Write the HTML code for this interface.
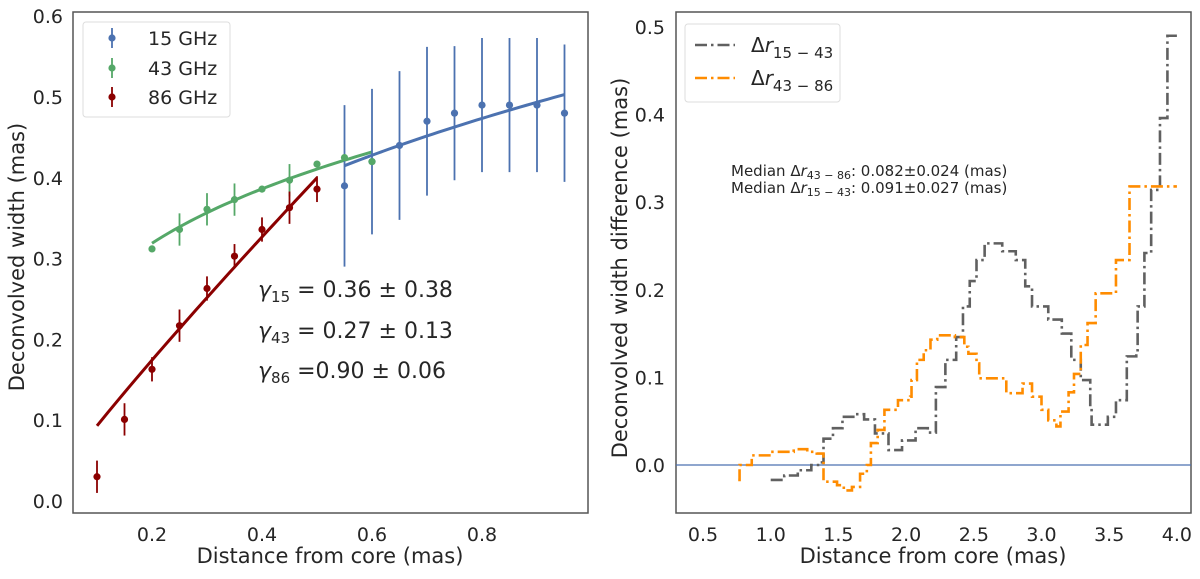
<!DOCTYPE html>
<html><head><meta charset="utf-8"><style>
html,body{margin:0;padding:0;background:#fff;}
svg text{font-family:"DejaVu Sans","Liberation Sans",sans-serif;fill:#262626;}
</style></head><body>
<svg id="fig" width="1200" height="574" xmlns="http://www.w3.org/2000/svg">
<g id="left"></g>
<g id="right"></g>
</svg>
<script>
// ---- Left chart data ----
const xTicksL = [0.2, 0.4, 0.6, 0.8];
const yTicksL = [0.0, 0.1, 0.2, 0.3, 0.4, 0.5, 0.6];
const x15 = [0.55,0.6,0.65,0.7,0.75,0.8,0.85,0.9,0.95];
const y15 = [0.39,0.42,0.44,0.47,0.48,0.49,0.49,0.49,0.48];
const e15 = [0.10,0.09,0.092,0.092,0.083,0.083,0.083,0.083,0.085];
const x43 = [0.2,0.25,0.3,0.35,0.4,0.45,0.5,0.55,0.6];
const y43 = [0.312,0.336,0.361,0.373,0.386,0.397,0.417,0.425,0.420];
const e43 = [0,0.02,0.02,0.02,0.004,0.02,0.004,0.004,0.004];
const x86 = [0.1,0.15,0.2,0.25,0.3,0.35,0.4,0.45,0.5];
const y86 = [0.030,0.101,0.163,0.217,0.263,0.303,0.336,0.363,0.386];
const e86 = [0.02,0.02,0.015,0.02,0.015,0.015,0.015,0.02,0.016];
const fit15 = [0.55, 0.95, 0.415, 0.503];
const fit43 = [0.2, 0.6, 0.319, 0.432];
const fit86 = [0.1, 0.5, 0.093, 0.400];
// ---- Right chart data ----
const xTicksR = [0.5,1.0,1.5,2.0,2.5,3.0,3.5,4.0];
const yTicksR = [0.0,0.1,0.2,0.3,0.4,0.5];
const gX = [1.0,1.1,1.2,1.3,1.36,1.39,1.46,1.53,1.61,1.69,1.77,1.87,1.97,2.07,2.16,2.22,2.29,2.37,2.42,2.47,2.52,2.58,2.71,2.81,2.88,2.93,3.05,3.15,3.22,3.29,3.36,3.37,3.49,3.55,3.63,3.70,3.71,3.76,3.81,3.875,3.93,4.0];
const gY = [-0.017,-0.012,-0.006,0.0,0.003,0.030,0.042,0.055,0.058,0.052,0.036,0.017,0.028,0.042,0.037,0.089,0.120,0.146,0.181,0.210,0.234,0.253,0.244,0.234,0.204,0.181,0.166,0.150,0.120,0.097,0.067,0.046,0.055,0.074,0.124,0.131,0.181,0.242,0.314,0.396,0.490,0.490];
const oX = [0.76,0.77,0.86,1.0,1.17,1.27,1.34,1.39,1.49,1.54,1.60,1.66,1.71,1.74,1.79,1.84,1.94,2.03,2.04,2.08,2.13,2.18,2.23,2.36,2.43,2.46,2.52,2.54,2.70,2.74,2.86,2.93,3.0,3.05,3.11,3.14,3.20,3.24,3.29,3.34,3.40,3.55,3.65,4.0];
const oY = [-0.017,0.0,0.011,0.015,0.018,0.015,0.013,-0.019,-0.023,-0.029,-0.025,-0.010,0.0,0.025,0.040,0.063,0.074,0.078,0.097,0.120,0.131,0.143,0.148,0.146,0.135,0.127,0.116,0.099,0.099,0.082,0.093,0.078,0.063,0.051,0.044,0.061,0.083,0.104,0.137,0.162,0.196,0.234,0.318,0.318];

const NS='http://www.w3.org/2000/svg';
function mk(parent, tag, attrs, text){
  const e=document.createElementNS(NS,tag);
  for(const k in attrs) e.setAttribute(k,attrs[k]);
  if(text!==undefined) e.textContent=text;
  parent.appendChild(e); return e;
}
const L=document.getElementById('left');
const xL=v=>42+550*v, yL=v=>501-808*v;
const R=document.getElementById('right');
const xR=v=>703+(v-0.5)*135.4, yR=v=>465-876*v;

let f=mk(L,'rect',{x:73,y:12,width:515,height:501,fill:'none',stroke:'#555',"stroke-width":1.5});


xTicksL.forEach(v=>{const t=mk(L,'text',{x:xL(v),y:541,'font-size':19,'text-anchor':'middle'},v.toFixed(1));

});
yTicksL.forEach(v=>{const t=mk(L,'text',{x:63,y:yL(v)+7,'font-size':19,'text-anchor':'end'},v.toFixed(1));

});
let t=mk(L,'text',{x:330,y:563,'font-size':21,'text-anchor':'middle'},'Distance from core (mas)');


t=mk(L,'text',{x:0,y:0,'font-size':21,'text-anchor':'middle',transform:'translate(24,257) rotate(-90)'},'Deconvolved width (mas)');



function series(xs,ys,es,col,name){
  const g=mk(L,'g',{});
  
  
  xs.forEach((x,i)=>{
    if(es[i]>0){const l=mk(g,'line',{x1:xL(x),x2:xL(x),y1:yL(ys[i]-es[i]),y2:yL(ys[i]+es[i]),stroke:col,'stroke-width':1.8});
    
    }
    const c=mk(g,'circle',{cx:xL(x),cy:yL(ys[i]),r:3.6,fill:col});
    
    
  });
}
function fitLine(p,col,name){
  const pts=[];const k=Math.log(p[3]/p[2])/Math.log(p[1]/p[0]);
  for(let i=0;i<=40;i++){const x=p[0]+(p[1]-p[0])*i/40;const y=p[2]*Math.pow(x/p[0],k);pts.push(xL(x)+','+yL(y));}
  const l=mk(L,'polyline',{points:pts.join(' '),fill:'none',stroke:col,'stroke-width':3});
  
  
}
fitLine(fit15,'#4c72b0','fit-15ghz');
fitLine(fit43,'#55a868','fit-43ghz');
fitLine(fit86,'#8b0000','fit-86ghz');
series(x15,y15,e15,'#4c72b0','series-15ghz');
series(x43,y43,e43,'#55a868','series-43ghz');
series(x86,y86,e86,'#8b0000','series-86ghz');

const lg=mk(L,'g',{});


mk(lg,'rect',{x:83,y:22,width:147,height:95,rx:3,fill:'#fff',stroke:'#ddd'});
[['15 GHz','#4c72b0',38],['43 GHz','#55a868',68],['86 GHz','#8b0000',97]].forEach(d=>{
  const e=mk(lg,'g',{});
  
  
  mk(e,'line',{x1:112,x2:112,y1:d[2]-10,y2:d[2]+10,stroke:d[1],'stroke-width':1.8});
  mk(e,'circle',{cx:112,cy:d[2],r:3.6,fill:d[1]});
  mk(e,'text',{x:148,y:d[2]+7,'font-size':19},d[0]);
});
[['15','= 0.36 ± 0.38',297],['43','= 0.27 ± 0.13',338],['86',' =0.90 ± 0.06',378]].forEach(d=>{
  const a=mk(L,'text',{x:258,y:d[2],'font-size':22});
  
  
  mk(a,'tspan',{'font-style':'italic'},'γ');
  mk(a,'tspan',{'font-size':15,dy:5},d[0]);
  mk(a,'tspan',{dy:-5},' '+d[1]);
});

f=mk(R,'rect',{x:676,y:12,width:515,height:501,fill:'none',stroke:'#555',"stroke-width":1.5});


xTicksR.forEach(v=>{const t=mk(R,'text',{x:xR(v),y:541,'font-size':19,'text-anchor':'middle'},v.toFixed(1));

});
yTicksR.forEach(v=>{const t=mk(R,'text',{x:665,y:yR(v)+7,'font-size':19,'text-anchor':'end'},v.toFixed(1));

});
t=mk(R,'text',{x:933,y:563,'font-size':21,'text-anchor':'middle'},'Distance from core (mas)');


t=mk(R,'text',{x:0,y:0,'font-size':21,'text-anchor':'middle',transform:'translate(627,268) rotate(-90)'},'Deconvolved width difference (mas)');


const z=mk(R,'line',{x1:676,x2:1191,y1:yR(0),y2:yR(0),stroke:'#4c72b0','stroke-width':1.3});


function steps(xs,ys,col,name){
  let d='M'+xR(xs[0])+','+yR(ys[0]);
  for(let i=1;i<xs.length;i++){d+=' H'+xR(xs[i])+' V'+yR(ys[i]);}
  const p=mk(R,'path',{d:d,fill:'none',stroke:col,'stroke-width':2.6,'stroke-dasharray':'12 4 2.5 4'});
  
  
}
steps(gX,gY,'#606060','step-dr-15-43');
steps(oX,oY,'#ff8c00','step-dr-43-86');
const lr=mk(R,'g',{});


mk(lr,'rect',{x:685,y:24,width:155,height:78,rx:3,fill:'#fff',stroke:'#ddd'});
[['15 − 43','#606060',45],['43 − 86','#ff8c00',78]].forEach(d=>{
  const e=mk(lr,'g',{});
  
  
  mk(e,'line',{x1:695,x2:735,y1:d[2],y2:d[2],stroke:d[1],'stroke-width':2.6,'stroke-dasharray':'12 4 2.5 4'});
  const tx=mk(e,'text',{x:751,y:d[2]+7,'font-size':20},'Δ');
  mk(tx,'tspan',{'font-style':'italic'},'r');
  mk(tx,'tspan',{'font-size':15,dy:6},d[0]);
});
[['43 − 86','0.082±0.024 (mas)',176],['15 − 43','0.091±0.027 (mas)',193]].forEach(d=>{
  const a=mk(R,'text',{x:731,y:d[2],'font-size':15});
  
  
  mk(a,'tspan',{},'Median Δ');
  mk(a,'tspan',{'font-style':'italic'},'r');
  mk(a,'tspan',{'font-size':11,dy:3},d[0]);
  mk(a,'tspan',{dy:-3},': '+d[1]);
});
</script>
</body></html>
